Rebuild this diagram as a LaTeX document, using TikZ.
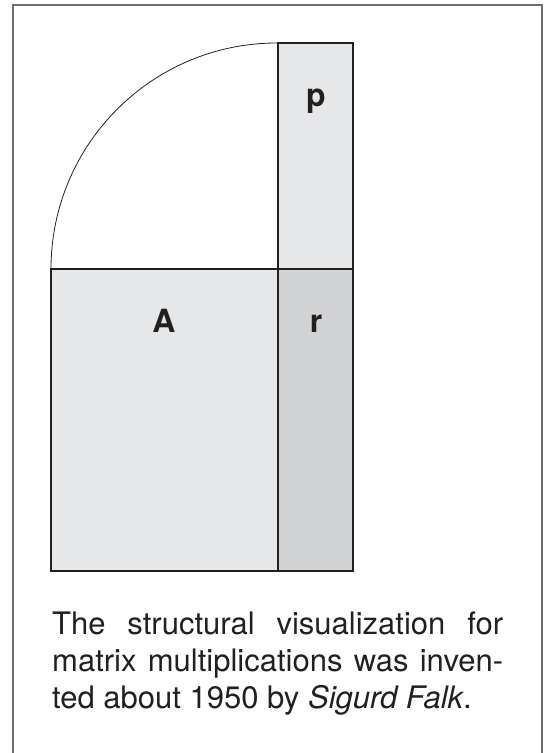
\documentclass[tikz,border=0pt]{standalone}
\usepackage{fontspec}
\setmainfont{TeX Gyre Heros}
\usetikzlibrary{positioning}
\definecolor{lightfill}{HTML}{E6E7E8}
\definecolor{darkfill}{HTML}{D1D3D4}
\definecolor{framegray}{HTML}{6D6E71}
\definecolor{ink}{HTML}{231F20}

\begin{document}
\begin{tikzpicture}[x=1pt, y=1pt,
  block/.style={draw=ink, line width=1.1pt},
  lbl/.style={anchor=base, inner sep=0pt, text=ink, font=\fontsize{32}{38}\selectfont\bfseries},
  caption/.style={anchor=north west, inner sep=0pt, text width=451pt, align=justify,
    text=ink, font=\fontsize{31}{37}\selectfont}]

\useasboundingbox (0,0) rectangle (547,753);

% Cornice
\draw[framegray, line width=1.6pt] (13,0) -- (13,748) -- (542,748) -- (542,0);

% Punto d'incontro dei blocchi
\coordinate (o) at (278,484);

% Blocchi A, r, p
\draw[block, fill=lightfill] (51,182) rectangle (o);
\draw[block, fill=darkfill] (278,182) rectangle (353,484);
\draw[block, fill=lightfill] (o) rectangle (353,710);

% Quarto di cerchio
\draw[ink, line width=0.8pt] (51,484) arc[start angle=180, end angle=90, radius=226];

% Etichette
\node[lbl] (A) at (164,420) {A};
\node[lbl] (r) at (316,420) {r};
\node[lbl] (p) at (316,646) {p};

% Didascalia
\node[caption] (cap) at (52,141)
  {The structural visualization for\linebreak matrix multiplications was inven-\linebreak ted about 1950 by \textit{Sigurd Falk}.};

\end{tikzpicture}
\end{document}
